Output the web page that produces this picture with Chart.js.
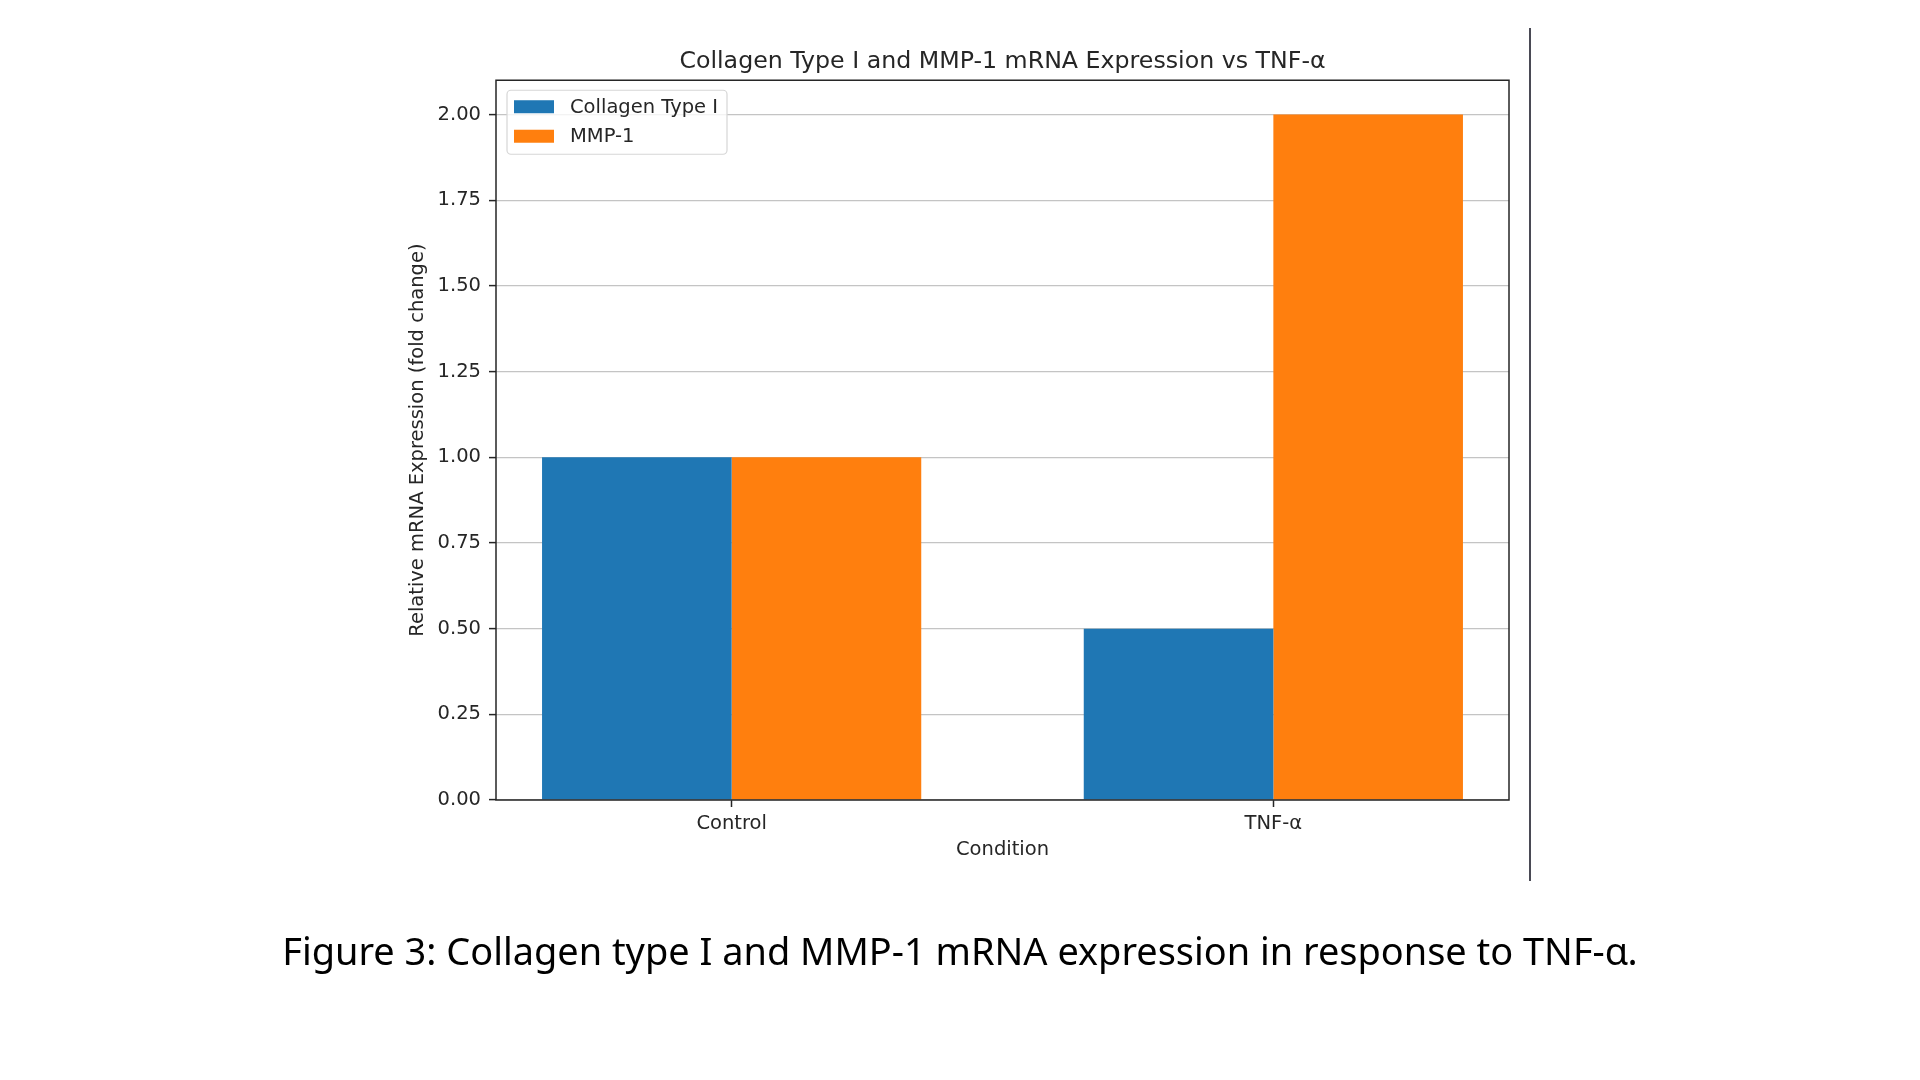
<!DOCTYPE html>
<html>
<head>
<meta charset="utf-8">
<script src="https://cdn.jsdelivr.net/npm/chart.js@4.4.1/dist/chart.umd.min.js"></script>
<style>
  html, body { margin: 0; padding: 0; background: #ffffff; width: 1920px; height: 1080px; overflow: hidden; }
  #wrap { position: absolute; left: 85px; top: 0; width: 1835px; height: 1080px; }
  #rule { position: absolute; left: 1529px; top: 28px; width: 2px; height: 853px; background: #4a4a55; }
  #caption { position: absolute; left: 0; width: 1920px; top: 925px; text-align: center;
             font-family: "Noto Sans", sans-serif; font-size: 35px; color: #000; white-space: nowrap; line-height: 50px; }
</style>
</head>
<body>
<div id="wrap"><canvas id="c" width="1835" height="1080"></canvas></div>
<div id="rule"></div>
<div id="caption"><span id="capText">Figure 3: Collagen type I and MMP-1 mRNA expression in response to TNF-α.</span></div>
<script>
// ---- data ----
const categories = ['Control', 'TNF-α'];
const seriesLabels = ['Collagen Type I', 'MMP-1'];
const collagenValues = [1.0, 0.5];
const mmp1Values = [1.0, 2.0];
const yTickValues = [0, 0.25, 0.5, 0.75, 1.0, 1.25, 1.5, 1.75, 2.0];
const xTickValues = [0, 1];
const chartTitle = 'Collagen Type I and MMP-1 mRNA Expression vs TNF-α';
const xAxisTitle = 'Condition';
const yAxisTitle = 'Relative mRNA Expression (fold change)';

// ---- styles ----
const FONT = '"DejaVu Sans", sans-serif';
const TEXT = '#262626';
const colors = ['#1f77b4', '#ff7f0e'];

// fit caption width
(function () {
  const span = document.getElementById('capText');
  const target = 1356;
  const w = span.getBoundingClientRect().width;
  const cap = document.getElementById('caption');
  cap.style.fontSize = (35 * target / w).toFixed(2) + 'px';
})();

const frameAndLegend = {
  id: 'frameAndLegend',
  afterDraw(chart) {
    const ctx = chart.ctx;
    const a = chart.chartArea;
    ctx.save();
    // frame (spines)
    ctx.strokeStyle = '#262626';
    ctx.lineWidth = 1.5;
    ctx.strokeRect(a.left, a.top, a.right - a.left, a.bottom - a.top);

    // legend
    ctx.font = '19.5px ' + FONT;
    const ds = chart.data.datasets;
    let maxW = 0;
    ds.forEach(d => { maxW = Math.max(maxW, ctx.measureText(d.label).width); });
    const bx = a.left + 11, by = a.top + 10;
    const padL = 7, swW = 40, swH = 13, gap = 16, padR = 9;
    const bw = padL + swW + gap + maxW + padR;
    const bh = 64;
    ctx.beginPath();
    if (ctx.roundRect) ctx.roundRect(bx, by, bw, bh, 4); else ctx.rect(bx, by, bw, bh);
    ctx.fillStyle = 'rgba(255,255,255,0.8)';
    ctx.fill();
    ctx.strokeStyle = '#d6d6d6';
    ctx.lineWidth = 1.2;
    ctx.stroke();
    ds.forEach((d, i) => {
      const cy = by + 16.5 + i * 29.5;
      ctx.fillStyle = d.backgroundColor;
      ctx.fillRect(bx + padL, cy - swH / 2, swW, swH);
      ctx.fillStyle = TEXT;
      ctx.textBaseline = 'middle';
      ctx.textAlign = 'left';
      ctx.fillText(d.label, bx + padL + swW + gap, cy + 1);
    });
    ctx.restore();
  }
};

const toPoints = vals => categories.map((c, i) => ({ x: i, y: vals[i] }));

new Chart(document.getElementById('c'), {
  type: 'bar',
  data: {
    datasets: [
      { label: seriesLabels[0], data: toPoints(collagenValues), backgroundColor: colors[0], borderWidth: 0 },
      { label: seriesLabels[1], data: toPoints(mmp1Values), backgroundColor: colors[1], borderWidth: 0 }
    ]
  },
  options: {
    responsive: false,
    animation: false,
    devicePixelRatio: 1,
    categoryPercentage: 0.7,
    barPercentage: 1.0,
    layout: { padding: { left: 0, right: 411, top: 0, bottom: 0 } },
    plugins: {
      legend: { display: false },
      tooltip: { enabled: false },
      title: {
        display: true,
        fullSize: false,
        text: chartTitle,
        color: TEXT,
        font: { family: FONT, size: 23.7, weight: 'normal', lineHeight: 1.2 },
        padding: { top: 47.5, bottom: 4.3 }
      }
    },
    scales: {
      x: {
        type: 'linear',
        min: -0.435,
        max: 1.435,
        offset: false,
        afterFit(scale) { scale.height = 280; },
        afterBuildTicks(scale) { scale.ticks = xTickValues.map(v => ({ value: v })); },
        ticks: {
          callback: v => categories[v],
          autoSkip: false,
          maxRotation: 0,
          color: TEXT,
          padding: 5,
          font: { family: FONT, size: 19.5 }
        },
        grid: { display: true, offset: false, drawOnChartArea: false, drawTicks: true, tickLength: 7, tickWidth: 1.5, tickColor: '#262626' },
        border: { display: false },
        title: {
          display: true, text: xAxisTitle, color: TEXT,
          font: { family: FONT, size: 19.5, lineHeight: 1.2 },
          padding: { top: 0, bottom: 218 }
        }
      },
      y: {
        type: 'linear',
        min: 0,
        max: 2.1,
        afterFit(scale) { scale.width = 411; },
        afterBuildTicks(scale) { scale.ticks = yTickValues.map(v => ({ value: v })); },
        ticks: {
          callback: v => Number(v).toFixed(2),
          color: TEXT,
          padding: 8,
          font: { family: FONT, size: 19.5 }
        },
        grid: { display: true, color: '#c4c4c4', lineWidth: 1.2, drawTicks: true, tickLength: 7, tickWidth: 1.5, tickColor: '#262626' },
        border: { display: false },
        title: {
          display: true, text: yAxisTitle, color: TEXT,
          font: { family: FONT, size: 19.5, lineHeight: 1.2 },
          padding: { top: 321.3, bottom: 0 }
        }
      }
    }
  },
  plugins: [frameAndLegend]
});
</script>
</body>
</html>
